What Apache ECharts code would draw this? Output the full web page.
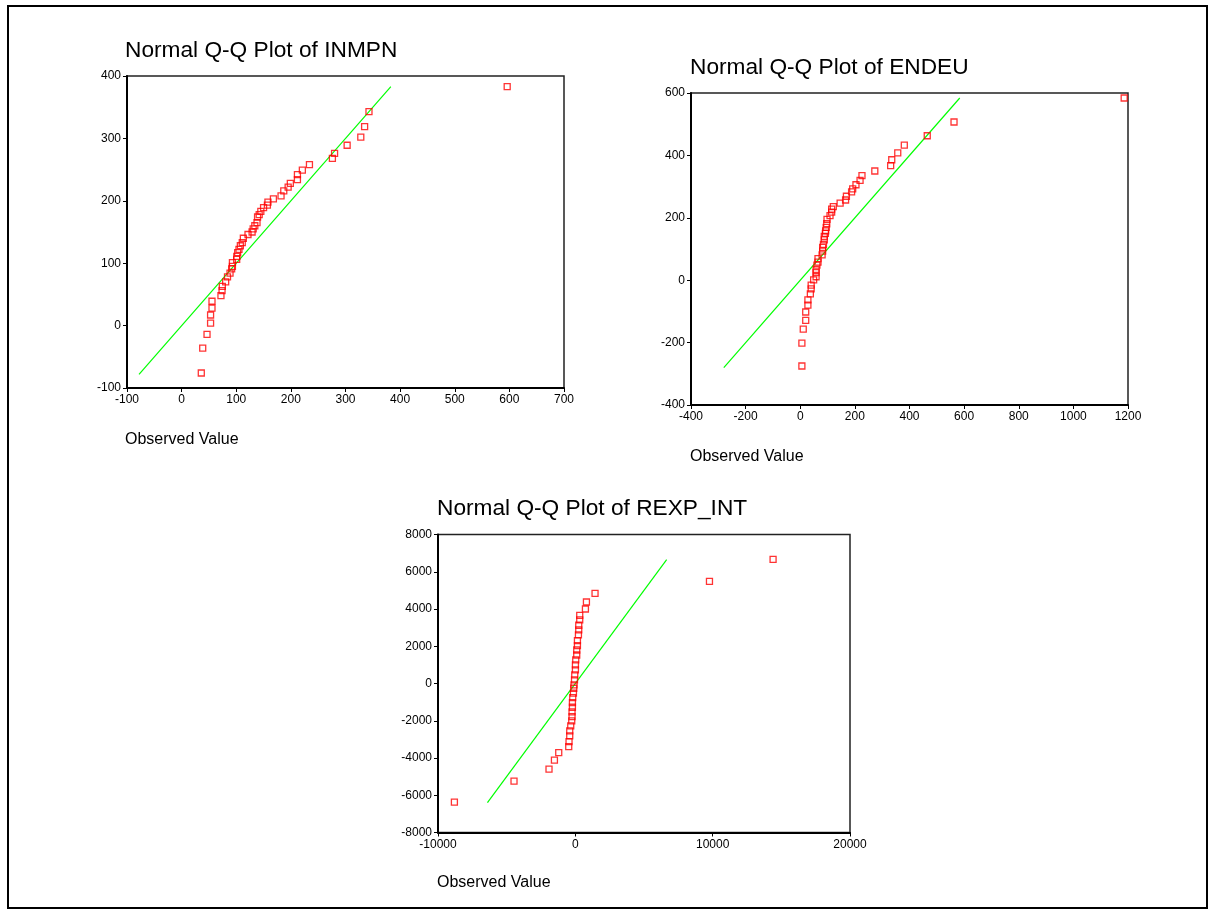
<!DOCTYPE html>
<html>
<head>
<meta charset="utf-8">
<script src="https://cdn.jsdelivr.net/npm/echarts@6/dist/echarts.min.js"></script>
<style>
  html, body { margin: 0; padding: 0; background: #fff; }
  #chart { width: 1208px; height: 911px; }
</style>
</head>
<body>
<div id="chart"></div>
<script>
// INMPN: observed value (x) vs expected normal value (y)
const inmpnObserved = [36, 38.6, 46.5, 53, 53, 55.6, 55.6, 72, 74, 74.5, 80.6, 84, 88.6, 91.6, 93, 93, 100.8, 101, 102.6, 105,
  107.5, 111, 113, 121.5, 129, 131, 134, 138, 139, 142, 145, 150, 157, 158, 168, 182, 187, 195, 199, 212,
  212, 221, 234, 276, 280, 303, 328, 335, 343, 596];
const inmpnExpected = [-76, -36, -14, 4, 17, 28, 39, 48, 56, 63, 70, 78, 84, 91, 95, 101, 106, 111, 117, 122,
  128, 133, 140, 146, 150, 155, 160, 165, 174, 178, 183, 189, 193, 198, 203, 208, 216, 222, 228, 234,
  242, 249, 258, 268, 276, 289, 302, 319, 343, 383];
const inmpnLine = [-78, 383];

// ENDEU
const endeuObserved = [6, 6, 11, 20, 20, 28, 28, 37, 40, 40, 49, 58, 58, 58, 61, 65, 65, 80, 82, 82,
  85, 88, 88, 92, 93, 95, 97, 98, 109, 115, 115, 121, 146, 166, 169, 188, 192, 204, 219, 226,
  273, 331, 335, 357, 381, 465, 563, 1186];
const endeuExpected = [-275, -202, -157, -129, -102, -80, -63, -44, -28, -16, 1, 11, 24, 35, 48, 58, 69, 81, 93, 105,
  115, 129, 140, 150, 158, 169, 181, 195, 207, 218, 228, 236, 247, 257, 269, 283, 293, 306, 320, 335,
  350, 367, 386, 408, 433, 463, 507, 584];
const endeuLine = [-280, 584];

// REXP_INT
const rexpObserved = [-8806, -4465, -1917, -1523, -1209, -481, -459, -408, -408, -335, -262, -240, -240, -212, -212,
  -190, -138, -115, -95, -60, -43, 7, 7, 29, 102, 102, 153, 153, 226, 248, 248, 320, 320, 735, 808,
  1435, 9767, 14399];
const rexpExpected = [-6369, -5243, -4601, -4116, -3708, -3386, -3118, -2812, -2544, -2276, -2008, -1775, -1525, -1276, -1026,
  -757, -522, -255, -76, 190, 460, 728, 997, 1265, 1530, 1800, 2032, 2300, 2607, 2875, 3127, 3411, 3663, 4001, 4377,
  4843, 5487, 6667];
const rexpLine = [-6400, 6650];

const plotTitles = ["Normal Q-Q Plot of INMPN", "Normal Q-Q Plot of ENDEU", "Normal Q-Q Plot of REXP_INT"];
const xLabel = "Observed Value";

const FONT = "'Liberation Sans', Arial, sans-serif";

function pairs(xs, ys) {
  return xs.map(function (x, i) { return [x, ys[i]]; });
}

function axis(gridIndex, min, max, interval) {
  return {
    gridIndex: gridIndex,
    type: "value",
    min: min,
    max: max,
    interval: interval,
    axisLine: { show: true, onZero: false, lineStyle: { color: "#000", width: 2 } },
    axisTick: { show: true, length: 4, lineStyle: { color: "#000", width: 1 } },
    splitLine: { show: false },
    axisLabel: {
      color: "#000",
      fontSize: 12,
      fontFamily: FONT,
      margin: 6,
      formatter: function (v) { return String(v); },
    },
  };
}

function points(i, data) {
  return {
    type: "scatter",
    xAxisIndex: i,
    yAxisIndex: i,
    data: data,
    symbol: "rect",
    symbolSize: 6,
    itemStyle: { color: "rgba(255,255,255,0)", borderColor: "#ff0000", borderWidth: 1.3 },
    z: 3,
  };
}

function refLine(i, ends) {
  return {
    type: "line",
    xAxisIndex: i,
    yAxisIndex: i,
    data: [[ends[0], ends[0]], [ends[1], ends[1]]],
    showSymbol: false,
    symbol: "none",
    lineStyle: { color: "#00ff00", width: 1.2 },
    z: 2,
  };
}

function label(text, left, top, size) {
  return {
    text: text,
    left: left,
    top: top,
    textStyle: { color: "#000", fontSize: size, fontWeight: "normal", fontFamily: FONT },
    padding: 0,
  };
}

let chart = echarts.init(document.getElementById("chart"));
let option = {
  animation: false,
  backgroundColor: "#fff",
  title: [
    label(plotTitles[0], 125, 39, 22.7),
    label(plotTitles[1], 690, 56, 22.7),
    label(plotTitles[2], 437, 497, 22.7),
    label(xLabel, 125, 432, 16),
    label(xLabel, 690, 449, 16),
    label(xLabel, 437, 875, 16),
  ],
  grid: [
    { left: 127, top: 76, width: 437, height: 312, show: true, borderColor: "#222", borderWidth: 1.5 },
    { left: 691, top: 93, width: 437, height: 312, show: true, borderColor: "#222", borderWidth: 1.5 },
    { left: 438, top: 534.5, width: 412, height: 298, show: true, borderColor: "#222", borderWidth: 1.5 },
  ],
  xAxis: [
    axis(0, -100, 700, 100),
    axis(1, -400, 1200, 200),
    axis(2, -10000, 20000, 10000),
  ],
  yAxis: [
    axis(0, -100, 400, 100),
    axis(1, -400, 600, 200),
    axis(2, -8000, 8000, 2000),
  ],
  graphic: [
    {
      type: "rect",
      shape: { x: 8, y: 6, width: 1199, height: 902 },
      style: { fill: "none", stroke: "#000", lineWidth: 2 },
      silent: true,
    },
  ],
  series: [
    refLine(0, inmpnLine),
    points(0, pairs(inmpnObserved, inmpnExpected)),
    refLine(1, endeuLine),
    points(1, pairs(endeuObserved, endeuExpected)),
    refLine(2, rexpLine),
    points(2, pairs(rexpObserved, rexpExpected)),
  ],
};
option && chart.setOption(option);
</script>
</body>
</html>
